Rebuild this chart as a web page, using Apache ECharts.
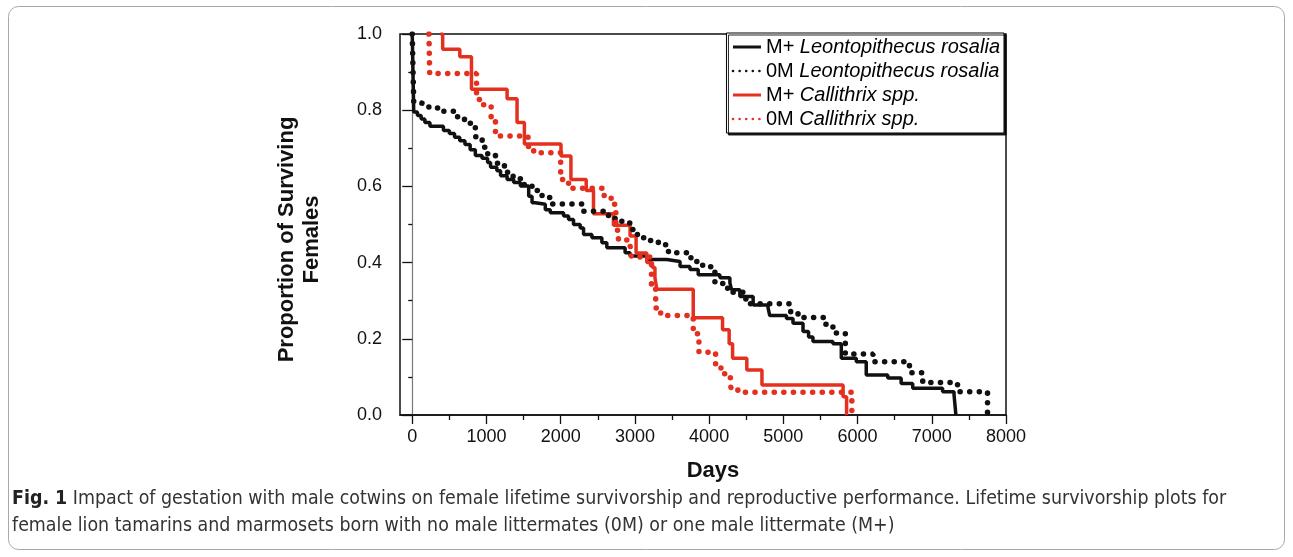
<!DOCTYPE html>
<html>
<head>
<meta charset="utf-8">
<script src="https://cdn.jsdelivr.net/npm/echarts@6/dist/echarts.min.js"></script>
<style>
  html, body { margin: 0; padding: 0; background: #fff; }
  #chart { width: 1293px; height: 557px; }
</style>
</head>
<body>
<div id="chart"></div>
<script>
// series names
const seriesNames = [
  'M+ Leontopithecus rosalia',
  '0M Leontopithecus rosalia',
  'M+ Callithrix spp.',
  '0M Callithrix spp.'
];

// M+ Leontopithecus rosalia (black solid)
const mLeoDays = [0, 20, 70, 120, 170, 238, 420, 500, 570, 640, 710, 780, 850, 940, 1015, 1055, 1140, 1190, 1278, 1367, 1457, 1569, 1614, 1659, 1793, 1860, 2039, 2106, 2173, 2263, 2308, 2421, 2555, 2622, 2868, 2935, 3160, 3429, 3608, 3742, 3853, 4145, 4280, 4302, 4414, 4593, 4794, 4817, 5042, 5130, 5265, 5340, 5399, 5668, 5781, 5983, 6117, 6407, 6587, 6743, 7146, 7300, 7325];
const mLeoProp = [1.0, 0.795, 0.786, 0.777, 0.768, 0.758, 0.747, 0.739, 0.729, 0.720, 0.710, 0.696, 0.681, 0.674, 0.663, 0.650, 0.641, 0.628, 0.618, 0.610, 0.601, 0.574, 0.557, 0.553, 0.539, 0.531, 0.522, 0.513, 0.500, 0.491, 0.474, 0.465, 0.452, 0.439, 0.426, 0.417, 0.408, 0.403, 0.390, 0.382, 0.368, 0.360, 0.347, 0.329, 0.311, 0.289, 0.281, 0.261, 0.253, 0.241, 0.219, 0.205, 0.193, 0.187, 0.149, 0.140, 0.105, 0.097, 0.083, 0.070, 0.061, 0.053, 0.0];

// 0M Leontopithecus rosalia (black dotted)
const zLeoDays = [0, 20, 90, 224, 426, 606, 704, 850, 942, 1017, 1121, 1242, 1359, 1466, 1614, 1749, 1870, 2286, 2644, 2824, 2958, 3034, 3181, 3316, 3452, 3755, 3913, 4078, 4249, 4495, 5099, 5198, 5566, 5668, 5835, 6208, 6699, 6878, 7347, 7751];
const zLeoProp = [1.0, 0.82, 0.815, 0.806, 0.797, 0.783, 0.766, 0.73, 0.703, 0.683, 0.661, 0.637, 0.620, 0.605, 0.589, 0.571, 0.554, 0.535, 0.516, 0.504, 0.487, 0.465, 0.458, 0.447, 0.426, 0.403, 0.389, 0.345, 0.322, 0.292, 0.268, 0.256, 0.238, 0.215, 0.160, 0.140, 0.111, 0.085, 0.061, 0.0];

// M+ Callithrix spp. (red solid)
const mCalDays = [380, 410, 641, 798, 1278, 1412, 1511, 2004, 2138, 2344, 2442, 2711, 2935, 3016, 3160, 3235, 3270, 3295, 3786, 4181, 4270, 4316, 4508, 4712, 5805, 5852];
const mCalProp = [1.0, 0.96, 0.94, 0.855, 0.83, 0.768, 0.711, 0.680, 0.618, 0.589, 0.528, 0.498, 0.47, 0.425, 0.40, 0.387, 0.36, 0.33, 0.255, 0.224, 0.187, 0.149, 0.118, 0.079, 0.048, 0.0];

// 0M Callithrix spp. (red dotted)
const zCalDays = [225, 235, 866, 942, 1063, 1121, 1560, 1636, 2000, 2106, 2586, 2680, 2743, 2778, 2935, 2952, 3223, 3280, 3347, 3786, 3863, 4087, 4159, 4286, 4295, 4387, 5923];
const zCalProp = [1.0, 0.896, 0.828, 0.814, 0.782, 0.732, 0.705, 0.688, 0.618, 0.595, 0.570, 0.553, 0.485, 0.459, 0.445, 0.415, 0.33, 0.281, 0.261, 0.213, 0.165, 0.132, 0.108, 0.094, 0.068, 0.060, 0.0];

// axis ticks
const xMajorTicks = [0, 1000, 2000, 3000, 4000, 5000, 6000, 7000, 8000];
const xMinorTicks = [500, 1500, 2500, 3500, 4500, 5500, 6500, 7500];

const captionLine1 = 'Impact of gestation with male cotwins on female lifetime survivorship and reproductive performance. Lifetime survivorship plots for';
const captionLine2 = 'female lion tamarins and marmosets born with no male littermates (0M) or one male littermate (M+)';

const BLACK = '#111111';
const RED = '#e4301f';
const CAPTION_FONT = 'Liberation Sans Narrow, DejaVu Sans Condensed, sans-serif';

function zip(a, b) {
  return a.map((v, i) => [v, b[i]]);
}

const chart = echarts.init(document.getElementById('chart'));

function stepSeries(name, days, prop, color, dotted) {
  return {
    name: name,
    type: 'line',
    step: 'end',
    symbol: 'none',
    silent: true,
    color: color,
    data: zip(days, prop),
    itemStyle: { color: color },
    lineStyle: dotted
      ? { color: color, width: 5.5, type: [0.1, 9.5], cap: 'round' }
      : { color: color, width: 3.5 },
    z: dotted ? 3 : 2
  };
}

const dottedIcon = { width: 2.5, type: [0.1, 6.5], cap: 'round' };
const solidIcon = { width: 3 };

chart.setOption({
  animation: false,
  grid: {
    left: 400, right: 287, top: 34, bottom: 142,
    show: true,
    borderColor: BLACK,
    borderWidth: 1.5
  },
  legend: {
    orient: 'vertical',
    right: 289,
    top: 33,
    itemWidth: 28,
    itemHeight: 12,
    itemGap: 4,
    padding: [4, 4, 4, 5],
    selectedMode: false,
    backgroundColor: '#fff',
    borderColor: '#000',
    borderWidth: 1,
    shadowColor: 'rgba(0,0,0,0.85)',
    shadowBlur: 0,
    shadowOffsetX: 2,
    shadowOffsetY: 2,
    itemStyle: { opacity: 0 },
    formatter: function (name) {
      const k = name.indexOf(' ');
      return '{n|' + name.slice(0, k) + ' }{i|' + name.slice(k + 1) + '}';
    },
    textStyle: {
      rich: {
        n: { fontSize: 20, fontFamily: 'Liberation Sans', color: '#000', lineHeight: 21 },
        i: { fontSize: 20, fontFamily: 'Liberation Sans', fontStyle: 'italic', color: '#000', lineHeight: 21 }
      }
    },
    data: [
      { name: seriesNames[0], lineStyle: solidIcon },
      { name: seriesNames[1], lineStyle: dottedIcon },
      { name: seriesNames[2], lineStyle: solidIcon },
      { name: seriesNames[3], lineStyle: dottedIcon }
    ]
  },
  xAxis: [
    {
      type: 'value',
      min: -165,
      max: 8000,
      name: 'Days',
      nameLocation: 'middle',
      nameGap: 45,
      nameTextStyle: { fontSize: 22, fontWeight: 'bold', color: BLACK, fontFamily: 'Liberation Sans', padding: [0, 0, 0, 20] },
      axisLine: { show: true, lineStyle: { color: BLACK, width: 1.5 } },
      axisTick: { show: true, customValues: xMajorTicks, length: 9, lineStyle: { color: BLACK, width: 1.3 } },
      axisLabel: {
        customValues: xMajorTicks, fontSize: 18, color: BLACK, fontFamily: 'Liberation Sans', margin: 13,
        formatter: function (v) { return String(v); }
      },
      splitLine: { show: false }
    },
    {
      type: 'value',
      min: -165,
      max: 8000,
      position: 'bottom',
      axisLine: { show: false },
      axisTick: { show: true, customValues: xMinorTicks, length: 5, lineStyle: { color: BLACK, width: 1.3 } },
      axisLabel: { show: false },
      splitLine: { show: false }
    }
  ],
  yAxis: {
    type: 'value',
    min: 0,
    max: 1,
    interval: 0.2,
    name: 'Proportion of Surviving\nFemales',
    nameLocation: 'middle',
    nameGap: 76,
    nameTextStyle: {
      fontSize: 22, fontWeight: 'bold', color: BLACK, fontFamily: 'Liberation Sans', lineHeight: 25,
      padding: [0, 30, 0, 0]
    },
    axisLine: { show: true, lineStyle: { color: '#777', width: 1.2 } },
    axisTick: { show: true, length: 10, lineStyle: { color: BLACK, width: 1.3 } },
    minorTick: { show: true, splitNumber: 2, length: 4, lineStyle: { color: BLACK, width: 1.3 } },
    axisLabel: {
      fontSize: 18, color: BLACK, fontFamily: 'Liberation Sans', margin: 18,
      formatter: function (v) { return v.toFixed(1); }
    },
    splitLine: { show: false }
  },
  graphic: [
    {
      type: 'rect',
      shape: { x: 8.5, y: 6.5, width: 1276, height: 543, r: 10 },
      style: { fill: 'none', stroke: '#a8a8a8', lineWidth: 1 },
      silent: true, z: -1
    },
    {
      type: 'text',
      left: 12,
      top: 489,
      style: {
        text: '{b|Fig. 1} ' + captionLine1,
        rich: {
          b: { fontWeight: 'bold', fontSize: 19.4, fill: '#222', fontFamily: CAPTION_FONT }
        },
        fontSize: 19.4,
        fill: '#333',
        fontFamily: CAPTION_FONT
      }
    },
    {
      type: 'text',
      left: 12,
      top: 516,
      style: {
        text: captionLine2,
        fontSize: 19.4,
        fill: '#333',
        fontFamily: CAPTION_FONT
      }
    }
  ],
  series: [
    stepSeries(seriesNames[0], mLeoDays, mLeoProp, BLACK, false),
    stepSeries(seriesNames[1], zLeoDays, zLeoProp, BLACK, true),
    stepSeries(seriesNames[2], mCalDays, mCalProp, RED, false),
    stepSeries(seriesNames[3], zCalDays, zCalProp, RED, true)
  ]
});
</script>
</body>
</html>
